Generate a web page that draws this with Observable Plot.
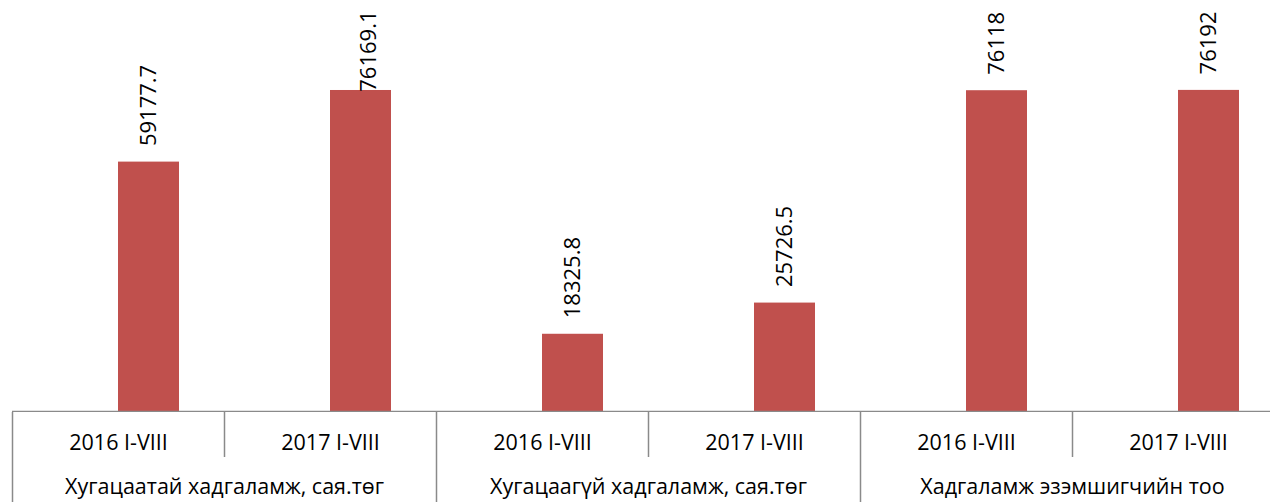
<!DOCTYPE html>
<html>
<head>
<meta charset="utf-8">
<script src="https://cdn.jsdelivr.net/npm/d3@7"></script>
<script src="https://cdn.jsdelivr.net/npm/@observablehq/plot@0.6"></script>
<style>
  html, body { margin: 0; padding: 0; background: #fff; }
  #chart svg { display: block; }
</style>
</head>
<body>
<div id="chart"></div>
<script>
const groups = ["Хугацаатай хадгаламж, сая.төг", "Хугацаагүй хадгаламж, сая.төг", "Хадгаламж эзэмшигчийн тоо"];
const periods = ["2016 I-VIII", "2017 I-VIII"];
const values2016 = [59177.7, 18325.8, 76118];
const values2017 = [76169.1, 25726.5, 76192];
const labels2016 = ["59177.7", "18325.8", "76118"];
const labels2017 = ["76169.1", "25726.5", "76192"];

const FONT = "'Open Sans', 'Noto Sans', sans-serif";
const FS = 22;
const TFS = 21.5;
const W = 1270;
const band = 212;
const xRange = [12, 12 + band * 6];
const yMax = 95150;
const mainH = 412, mTop = 10, mBottom = 1;
const labelGap = 16;
const lineColor = "#8a8a8a";
const barColor = "#C0504D";

const rows = [];
groups.forEach((g, i) => {
  rows.push({group: g, period: periods[0], key: g + "|" + periods[0], value: values2016[i], label: labels2016[i]});
  rows.push({group: g, period: periods[1], key: g + "|" + periods[1], value: values2017[i], label: labels2017[i]});
});
const keys = rows.map(d => d.key);

// decide which value labels fit above the bar and which are pushed down from the top
const ctx = document.createElement("canvas").getContext("2d");
ctx.font = `${FS}px ${FONT}`;
const yPx = d3.scaleLinear().domain([0, yMax]).range([mainH - mBottom, mTop]);
rows.forEach(d => { d.fits = yPx(d.value) - labelGap - ctx.measureText(d.label).width >= mTop; });

const xScale = {type: "band", domain: keys, range: xRange, padding: 0};

const main = Plot.plot({
  width: W,
  height: mainH,
  marginTop: mTop,
  marginBottom: mBottom,
  marginLeft: 12,
  marginRight: 0,
  x: {...xScale, axis: null},
  y: {domain: [0, yMax], axis: null},
  style: {fontFamily: FONT, background: "transparent"},
  marks: [
    Plot.barY(rows, {x: "key", y: "value", fill: barColor, insetLeft: 106, insetRight: 45}),
    Plot.ruleY([0], {stroke: lineColor, strokeWidth: 1.5}),
    Plot.text(rows, {filter: d => d.fits, x: "key", y: "value", text: "label", rotate: -90,
      textAnchor: "start", dx: 30, dy: -labelGap, fontSize: FS, fill: "#000"}),
    Plot.text(rows, {filter: d => !d.fits, x: "key", frameAnchor: "top", text: "label", rotate: -90,
      textAnchor: "end", dx: 30, fontSize: FS, fill: "#000"})
  ]
});

const groupStarts = rows.filter(d => d.period === periods[0]);
const groupSeconds = rows.filter(d => d.period === periods[1]);

const table = Plot.plot({
  width: W,
  height: 90,
  marginTop: 0,
  marginBottom: 0,
  marginLeft: 12,
  marginRight: 0,
  x: {...xScale, axis: null},
  y: {type: "band", domain: ["period", "group"], range: [0, 90], padding: 0, axis: null},
  style: {fontFamily: FONT, background: "transparent"},
  marks: [
    Plot.ruleX(groupStarts, {x: "key", dx: -band / 2, stroke: lineColor, strokeWidth: 1.5}),
    Plot.tickX(groupSeconds, {x: "key", y: () => "period", dx: -band / 2, stroke: lineColor, strokeWidth: 1.5}),
    Plot.text(rows, {x: "key", y: () => "period", text: "period", dy: 8, fontSize: TFS, fill: "#000"}),
    Plot.text(groupStarts, {x: "key", y: () => "group", text: "group", dx: band / 2, dy: 7, fontSize: TFS, fill: "#000"})
  ]
});

const el = document.getElementById("chart");
el.appendChild(main);
el.appendChild(table);
</script>
</body>
</html>
